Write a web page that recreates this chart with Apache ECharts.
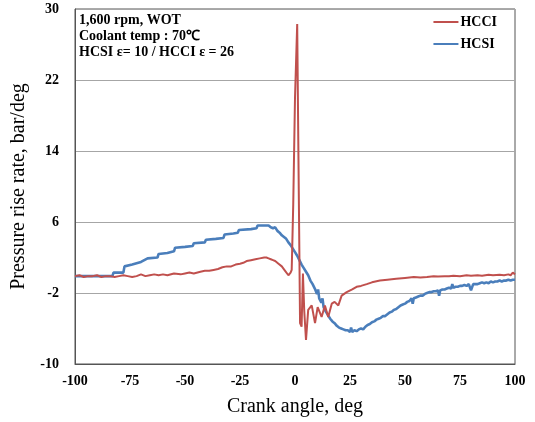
<!DOCTYPE html>
<html>
<head>
<meta charset="utf-8">
<script src="https://cdn.jsdelivr.net/npm/echarts@6/dist/echarts.min.js"></script>
<style>html,body{margin:0;padding:0;background:#fff}#c{width:535px;height:422px}</style>
</head>
<body>
<div id="c"></div>
<script>
var xTicks = [-100, -75, -50, -25, 0, 25, 50, 75, 100];
var yTicks = [-10, -2, 6, 14, 22, 30];
var seriesNames = ['HCCI', 'HCSI'];
var notes = ['1,600 rpm, WOT', 'Coolant temp : 70\u2103', 'HCSI \u03b5= 10 / HCCI \u03b5 = 26'];

var hcciAngle = [-100,-98,-96,-94,-92,-90,-88,-86,-84,-82,-80,-78,-76,-74,-72,-70,-68,-66,-64,-62,-60,-58,-55,-52,-50,-48,-46,-43,-41,-39,-37,-35,-33,-31,-29,-27,-25,-23.5,-22,-20,-18,-16,-14,-13,-12,-11,-10,-9,-7.5,-6,-4.5,-3,-2,-1.5,-0.8,0,1.0,1.5,2.3,3.0,3.6,4.2,5.0,6.0,7.6,9.1,10.3,12.1,13.6,15.1,16.7,18,19.7,21.2,23.5,26,28,30,32.6,35,38.6,42,46,50,54,57,60,63,65,68,70,72,75,78,80,83,85,88,90,93,95,97,98,99,100];
var hcciRate = [-0.1,0.0,-0.2,-0.1,-0.1,0.0,-0.2,-0.1,-0.1,-0.2,-0.1,0.0,-0.1,-0.2,-0.1,0.1,-0.1,0.0,0.1,0.0,0.1,0.0,0.2,0.1,0.2,0.3,0.2,0.4,0.5,0.5,0.6,0.7,0.9,1.0,1.0,1.2,1.3,1.4,1.6,1.7,1.8,1.9,2.0,2.0,1.9,1.8,1.7,1.6,1.3,1.0,0.5,0.0,0.3,0.6,8,20,28.3,15,-5.4,-5.8,0.2,-4.0,-7.3,-3.9,-3.4,-5.4,-3.6,-4.7,-3.4,-4.7,-3.2,-3.0,-3.4,-2.3,-1.9,-1.6,-1.3,-1.2,-1.0,-0.8,-0.6,-0.5,-0.4,-0.3,-0.2,-0.25,-0.2,-0.1,-0.15,-0.1,-0.1,-0.05,-0.1,0.0,-0.05,0.0,-0.05,0.05,0.0,0.05,0.0,0.1,0.0,0.3,0.1];

var hcsiAngle = [-100,-90,-83,-82.5,-78,-77.5,-74,-70,-67,-62.5,-62,-58,-55,-54.5,-50,-46.5,-46,-41,-40.5,-36,-32.5,-32,-28,-26,-25.5,-20,-17.5,-17,-12,-11,-10.5,-10,-9,-8,-7,-6,-5,-4,-3,-2,-1,0,1,2,3,4,5,6,7,8,9,10,10.5,11,12,12.5,13,14,15,16,17,18,19,20,21,22,23,24,25,25.5,26,27,28,29,30,31,32,33,34,35,36,37,38,39,40,41,42,43,44,45,46,47,48,49,50,51,52,53,53.5,54,55,56,57,58,59,60,61,62,63,64,65,65.5,66,67,68,69,70,71,71.5,72,73,74,75,76,77,78,79,79.5,80,81,82,83,84,85,86,87,88,89,90,91,92,93,94,95,96,97,98,99,100];
var hcsiRate = [-0.1,-0.1,-0.1,0.3,0.3,1.0,1.2,1.5,1.9,2.0,2.4,2.5,2.7,3.1,3.2,3.3,3.6,3.7,4.0,4.1,4.2,4.6,4.7,4.8,5.1,5.2,5.3,5.6,5.6,5.4,5.6,5.3,5.4,5.0,4.8,4.5,4.3,4.1,3.7,3.4,3.0,2.6,2.2,1.7,1.2,0.8,0.4,0.0,-0.6,-1.0,-1.5,-2.1,-1.6,-2.6,-3.1,-2.6,-3.6,-4.1,-4.5,-4.9,-5.2,-5.4,-5.7,-5.9,-6.0,-6.1,-6.2,-6.2,-6.4,-5.9,-6.4,-6.2,-6.3,-6.1,-6.0,-6.1,-5.8,-5.6,-5.5,-5.3,-5.2,-5.0,-4.9,-4.8,-4.6,-4.6,-4.4,-4.2,-4.1,-3.9,-3.8,-3.6,-3.4,-3.3,-3.2,-3.0,-2.9,-2.6,-3.2,-2.6,-2.5,-2.4,-2.3,-2.3,-2.1,-2.0,-1.9,-1.9,-1.8,-1.8,-1.7,-2.3,-1.7,-1.6,-1.6,-1.5,-1.4,-1.5,-1.0,-1.4,-1.3,-1.3,-1.2,-1.2,-1.1,-1.2,-1.0,-1.1,-1.7,-1.0,-1.0,-1.0,-0.9,-0.8,-0.9,-0.8,-0.9,-0.7,-0.8,-0.7,-0.7,-0.6,-0.7,-0.6,-0.6,-0.5,-0.6,-0.5,-0.5,-0.4,-0.45];

function pairs(xs, ys) { return xs.map(function (x, i) { return [x, ys[i]]; }); }

var serif = '"Liberation Serif", "Times New Roman", serif';
var chart = echarts.init(document.getElementById('c'), null, {renderer: 'canvas'});
chart.setOption({
  animation: false,
  backgroundColor: '#fff',
  grid: {left: 75, right: 20, top: 9, bottom: 53, show: true, borderColor: '#555', borderWidth: 1},
  legend: {
    orient: 'vertical', right: 33, top: 10, itemGap: 8,
    icon: 'rect', itemWidth: 25, itemHeight: 2,
    textStyle: {fontFamily: serif, fontWeight: 'bold', fontSize: 14, color: '#000', padding: [0,0,0,-3]},
    data: seriesNames
  },
  xAxis: {
    type: 'value', min: xTicks[0], max: xTicks[xTicks.length - 1], interval: 25,
    name: 'Crank angle, deg', nameLocation: 'middle', nameGap: 33,
    nameTextStyle: {fontFamily: serif, fontSize: 20, color: '#000'},
    axisLine: {show: true, onZero: false, lineStyle: {color: '#555'}},
    axisTick: {show: false},
    splitLine: {show: false},
    axisLabel: {fontFamily: serif, fontWeight: 'bold', fontSize: 14, color: '#000', margin: 10}
  },
  yAxis: {
    type: 'value', min: yTicks[0], max: yTicks[yTicks.length - 1], interval: 8,
    name: 'Pressure rise rate, bar/deg', nameLocation: 'middle', nameGap: 46,
    nameTextStyle: {fontFamily: serif, fontSize: 20, color: '#000'},
    axisLine: {show: true, onZero: false, lineStyle: {color: '#555'}},
    axisTick: {show: false},
    splitLine: {show: true, lineStyle: {color: '#a6a6a6', width: 1}},
    axisLabel: {fontFamily: serif, fontWeight: 'bold', fontSize: 14, color: '#000', margin: 16}
  },
  graphic: notes.map(function (t, i) {
    return {type: 'text', left: 79, top: 13 + i * 16,
      style: {text: t, font: 'bold 14px ' + serif, fill: '#000'}};
  }),
  series: [
    {name: seriesNames[0], type: 'line', showSymbol: false, symbol: 'none', z: 3,
     lineStyle: {color: '#C0504D', width: 2}, itemStyle: {color: '#C0504D'},
     data: pairs(hcciAngle, hcciRate)},
    {name: seriesNames[1], type: 'line', showSymbol: false, symbol: 'none', z: 2,
     lineStyle: {color: '#4A7EBB', width: 2.6}, itemStyle: {color: '#4A7EBB'},
     data: pairs(hcsiAngle, hcsiRate)}
  ]
});
</script>
</body>
</html>
